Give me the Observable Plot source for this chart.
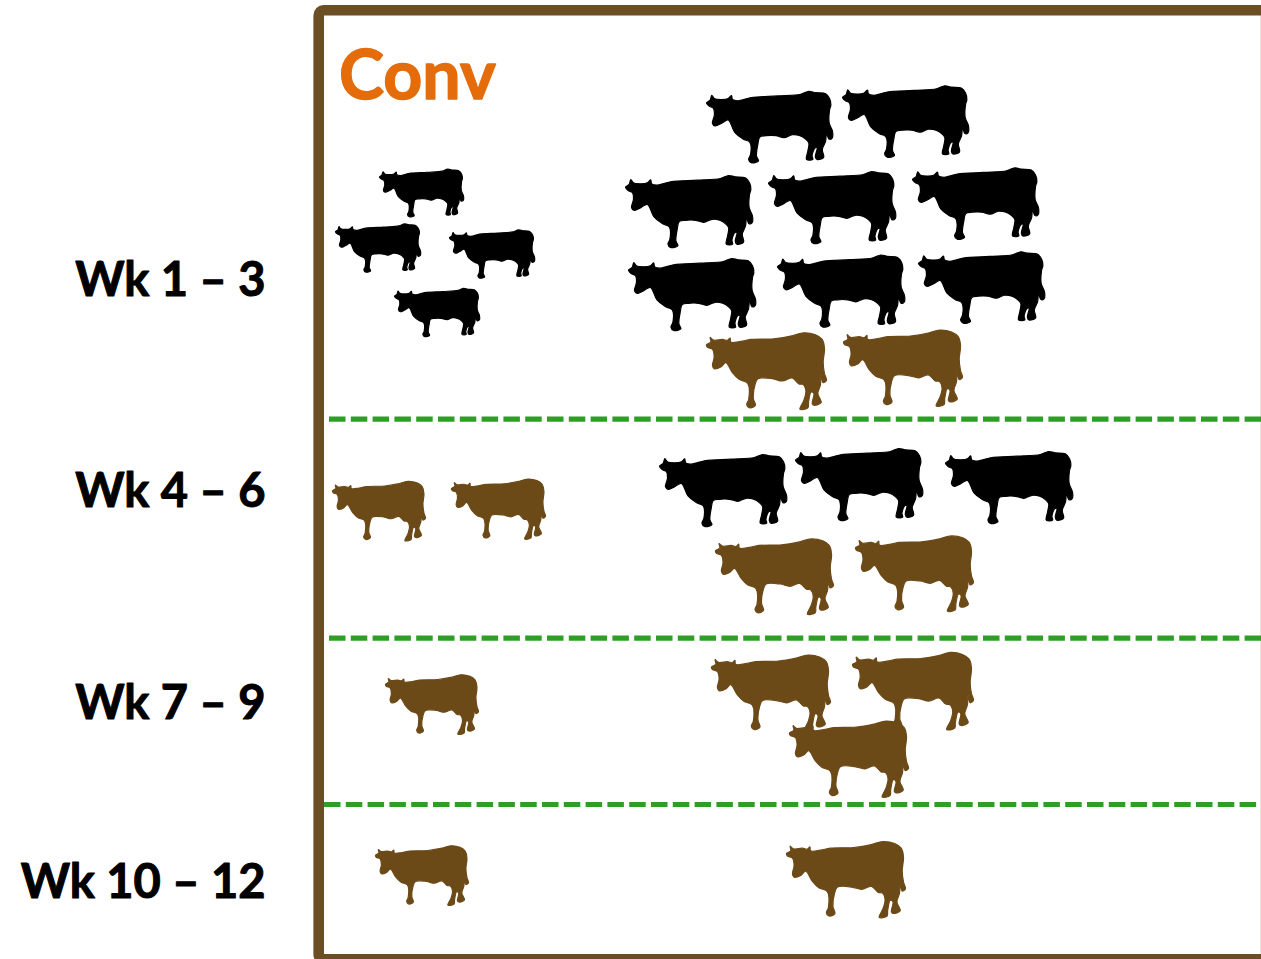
<!DOCTYPE html>
<html><head><meta charset="utf-8">
<script src="https://cdn.jsdelivr.net/npm/d3@7"></script>
<script src="https://cdn.jsdelivr.net/npm/@observablehq/plot@0.6"></script>
<style>html,body{margin:0;padding:0;background:#fff;overflow:hidden}</style>
</head><body><div id="chart"></div>
<script>
const weekLabels = ["Wk 1 – 3","Wk 4 – 6","Wk 7 – 9","Wk 10 – 12"];
const labelY = [280.5,491.5,703.5,882.5];
const dividerY = [418.7,637.7,804];
const dividerStart = [329,329,324];

// Cow herd: [x, y, half-width]
const blackCows = [[421,192.5,42],[377.5,247.5,42.5],[491.5,253.5,42.5],[436.5,312,42.5],
  [769,126.5,63],[905,121,63],[688.5,211,63.5],[831.5,207,63.5],[975,203,63],
  [691.5,294,63.5],[840.5,290.5,63.5],[981,287,63],[722.5,490,63.5],[858.5,484,63.5],[1008.5,487,63.5]];
const brownCows = [[766,370.5,60],[902.5,367.5,59.5],
  [378.5,510.5,46.5],[498,508.5,47],[774,576,59],[914,573,59],
  [431.5,704,46.5],[770.5,692.5,59.5],[912.5,690.5,60.5],[848.5,758.5,59.5],
  [421.5,875,46.5],[845.5,879,59.5]];

const blackOutline = [[14,68],[25,60],[30,45],[38,55],[60,58],[80,55],[90,46],[93,58],[110,62],[150,52],[230,47],[300,42],[325,33],[345,37],[375,40],[388,55],[392,75],[388,90],[387,130],[397,155],[396,175],[386,178],[379,160],[376,185],[366,210],[370,234],[350,240],[345,232],[350,205],[344,205],[335,228],[337,240],[318,240],[322,215],[325,190],[315,178],[298,168],[275,165],[250,174],[225,168],[195,168],[176,172],[170,195],[166,230],[172,245],[150,250],[142,240],[148,225],[146,188],[125,178],[100,158],[80,120],[60,130],[40,138],[32,130],[38,105],[35,85],[22,78]];
const brownOutline = [[17,58],[30,50],[28,36],[38,44],[65,42],[80,45],[88,38],[90,50],[120,48],[150,42],[220,40],[270,32],[310,22],[345,28],[365,42],[372,70],[368,110],[372,145],[378,165],[368,172],[362,150],[360,178],[352,205],[362,232],[340,240],[335,235],[340,205],[332,200],[324,230],[322,248],[298,252],[310,225],[316,198],[308,178],[295,176],[275,158],[245,167],[215,160],[172,160],[163,178],[158,220],[164,240],[148,248],[138,238],[144,222],[141,174],[115,162],[95,142],[75,112],[60,125],[40,130],[35,120],[40,95],[35,72],[20,66]];

function cowSymbol(outline) {
  const [x0,x1] = d3.extent(outline, d => d[0]);
  const [y0,y1] = d3.extent(outline, d => d[1]);
  const k = 2 / (x1 - x0), cx = (x0 + x1) / 2, cy = (y0 + y1) / 2;
  const unit = outline.map(([x,y]) => [(x - cx) * k, (y - cy) * k]);
  return {draw(context, size) {
    const r = Math.sqrt(size / Math.PI);
    d3.line().x(d => d[0] * r).y(d => d[1] * r)
      .curve(d3.curveCatmullRomClosed.alpha(0.5)).context(context)(unit);
  }};
}
const frameBrown = "#6b4e24", cowBrown = "#6c4a18", black = "#000000", green = "#2f9e26", orange = "#e46c0a";
const cowMark = (rows, outline, fill) => Plot.dot(rows, {
  x: d => d[0], y: d => d[1], r: d => d[2], symbol: cowSymbol(outline), fill, stroke: fill, strokeWidth: 1.2, strokeLinejoin: "round"
});

const plot = Plot.plot({
  width: 1261, height: 959,
  margin: 0,
  x: {domain: [0,1261], range: [0,1261], axis: null},
  y: {domain: [0,959], range: [0,959], axis: null},
  r: {type: "identity"},
  style: {background: "#fff", overflow: "hidden"},
  marks: [
    Plot.ruleX([1260.5], {y1: 15, y2: 954, stroke: "#d4c8b4", strokeWidth: 1}),
    Plot.rect([0], {x1: 318.7, x2: 1400, y1: 10.2, y2: 959.4, rx: 5, fill: "none", stroke: frameBrown, strokeWidth: 10.6}),
    Plot.ruleY(dividerY, {y: d => d, x1: (d,i) => dividerStart[i], x2: 1261, stroke: green, strokeWidth: 5.2, strokeDasharray: "16.5 5.3"}),
    cowMark(blackCows, blackOutline, black),
    cowMark(brownCows, brownOutline, cowBrown),
    Plot.text(weekLabels, {x: 265, y: (d,i) => labelY[i], text: d => d, textAnchor: "end", fontFamily: "Lato", fontWeight: 700, fontSize: 47, fill: "#000", stroke: "#000", strokeWidth: 1}),
    Plot.text(["Conv"], {x: 338.5, y: 77, text: d => d, textAnchor: "start", fontFamily: "Lato", fontWeight: 700, fontSize: 68, fill: orange, stroke: orange, strokeWidth: 1.4})
  ]
});
document.getElementById("chart").appendChild(plot);
</script></body></html>
